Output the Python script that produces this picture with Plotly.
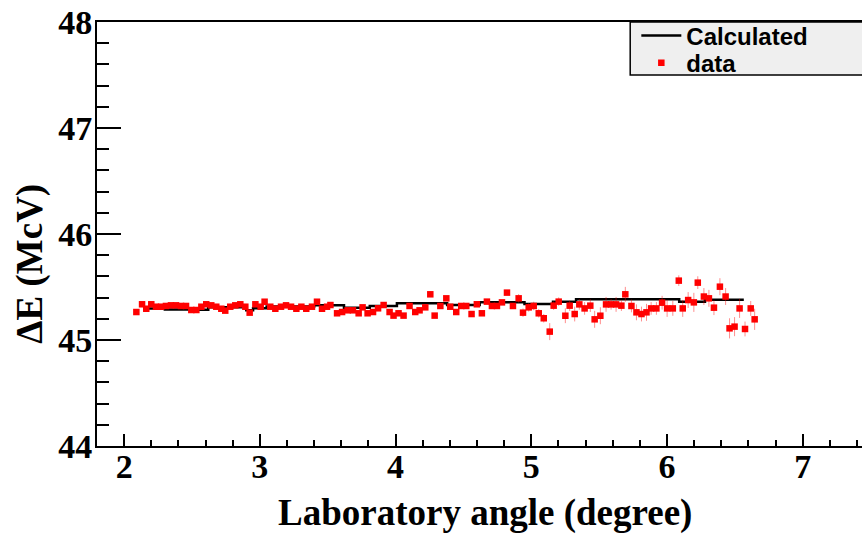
import plotly.graph_objects as go

# Measured energy loss vs laboratory angle
angle = [
    2.090, 2.132, 2.163, 2.200, 2.235, 2.272, 2.308, 2.345, 2.382, 2.419,
    2.456, 2.495, 2.532, 2.569, 2.605, 2.642, 2.679, 2.716, 2.745, 2.782,
    2.819, 2.856, 2.893, 2.925, 2.967, 3.006, 3.035, 3.077, 3.114, 3.156,
    3.193, 3.230, 3.269, 3.306, 3.342, 3.384, 3.421, 3.458, 3.495,
    3.520, 3.569, 3.606, 3.647, 3.686, 3.728, 3.757, 3.794, 3.834, 3.871,
    3.912, 3.956, 3.985, 4.022, 4.059, 4.103, 4.145, 4.177, 4.219, 4.256,
    4.288, 4.330, 4.374, 4.403, 4.447, 4.484, 4.521, 4.560, 4.599, 4.636,
    4.673, 4.710, 4.747, 4.784, 4.821, 4.865, 4.907, 4.939, 4.981, 5.018,
    5.055, 5.092, 5.136, 5.165, 5.202,
    5.251, 5.283, 5.320, 5.354, 5.393, 5.435, 5.467, 5.509, 5.551, 5.588,
    5.625, 5.664, 5.693, 5.738, 5.775, 5.812, 5.849, 5.883, 5.922, 5.964,
    6.001, 6.043, 6.087, 6.116, 6.156, 6.198, 6.227, 6.272, 6.309, 6.346,
    6.390, 6.432, 6.461, 6.498, 6.535, 6.575, 6.617, 6.646,
]
dE = [
    45.264, 45.337, 45.295, 45.337, 45.314, 45.314, 45.321, 45.327, 45.327, 45.321,
    45.321, 45.283, 45.283, 45.314, 45.337, 45.327, 45.314, 45.295, 45.277, 45.314,
    45.327, 45.337, 45.314, 45.258, 45.337, 45.314, 45.361, 45.314, 45.295, 45.314,
    45.327, 45.314, 45.295, 45.314, 45.295, 45.314, 45.361, 45.295, 45.314,
    45.330, 45.252, 45.264, 45.280, 45.280, 45.252, 45.308, 45.252, 45.264, 45.299,
    45.330, 45.264, 45.230, 45.252, 45.230, 45.321, 45.264, 45.280, 45.308, 45.431,
    45.230, 45.321, 45.393, 45.314, 45.264, 45.321, 45.321, 45.245, 45.337, 45.252,
    45.362, 45.321, 45.321, 45.355, 45.447, 45.321, 45.393, 45.258, 45.308, 45.321,
    45.252, 45.205, 45.079, 45.324, 45.362,
    45.229, 45.324, 45.245, 45.336, 45.298, 45.324, 45.195, 45.229, 45.336, 45.336,
    45.336, 45.324, 45.431, 45.321, 45.261, 45.245, 45.261, 45.298, 45.298, 45.352,
    45.298, 45.298, 45.560, 45.298, 45.377, 45.355, 45.541, 45.410, 45.393, 45.305,
    45.503, 45.410, 45.110, 45.126, 45.298, 45.104, 45.298, 45.195,
]
dE_err = [
    0.02, 0.02, 0.02, 0.02, 0.02, 0.02, 0.02, 0.02, 0.02, 0.02,
    0.02, 0.02, 0.02, 0.02, 0.02, 0.02, 0.02, 0.02, 0.02, 0.02,
    0.02, 0.02, 0.02, 0.02, 0.02, 0.02, 0.02, 0.02, 0.02, 0.02,
    0.02, 0.02, 0.02, 0.02, 0.02, 0.02, 0.02, 0.02, 0.02,
    0.02, 0.02, 0.02, 0.02, 0.02, 0.02, 0.02, 0.02, 0.02, 0.02,
    0.02, 0.02, 0.02, 0.02, 0.02, 0.02, 0.02, 0.02, 0.02, 0.02,
    0.02, 0.02, 0.02, 0.02, 0.02, 0.02, 0.02, 0.02, 0.02, 0.02,
    0.02, 0.02, 0.02, 0.02, 0.02, 0.02, 0.04, 0.04, 0.04, 0.04,
    0.04, 0.04, 0.08, 0.04, 0.04,
    0.07, 0.05, 0.07, 0.05, 0.06, 0.06, 0.08, 0.08, 0.07, 0.05,
    0.07, 0.05, 0.07, 0.06, 0.075, 0.07, 0.08, 0.06, 0.06, 0.065,
    0.08, 0.07, 0.05, 0.08, 0.075, 0.09, 0.06, 0.08, 0.08, 0.07,
    0.08, 0.08, 0.095, 0.09, 0.09, 0.07, 0.07, 0.1,
]

# Calculated curve (step levels)
calc_angle = [2.18, 2.30, 2.50, 2.62, 2.90, 2.95, 3.05, 3.40, 3.62, 3.81,
              4.01, 4.38, 4.62, 4.95, 5.16, 5.33, 6.09, 6.28, 6.566]
calc_dE = [45.298, 45.287, 45.285, 45.308, 45.280, 45.300, 45.315, 45.327, 45.305, 45.321,
           45.346, 45.330, 45.355, 45.340, 45.362, 45.385, 45.360, 45.380, 45.380]

x_ticks = [2, 3, 4, 5, 6, 7]
y_ticks = [44, 45, 46, 47, 48]

serif_bold = dict(family="Liberation Serif", size=34, color="black", weight="bold")
legend_font = dict(family="Liberation Sans", size=24, color="black", weight="bold")

fig = go.Figure()
fig.add_trace(go.Scatter(
    x=calc_angle, y=calc_dE, mode="lines", name="Calculated",
    line=dict(color="black", width=2.5, shape="hv"), legend="legend",
))
fig.add_trace(go.Scatter(
    x=angle, y=dE, mode="markers", name="data",
    marker=dict(symbol="square", size=6.5, color="#ff0000"),
    error_y=dict(type="data", array=dE_err, color="rgba(255,0,0,0.45)",
                 thickness=1, width=0),
    legend="legend2",
))

fig.update_layout(
    width=862, height=534,
    margin=dict(l=97, r=0, t=22, b=88),
    paper_bgcolor="white", plot_bgcolor="white",
    showlegend=True,
    legend=dict(
        x=0.705, y=0.967, xanchor="left", yanchor="middle",
        bgcolor="rgba(0,0,0,0)", borderwidth=0, font=legend_font, itemwidth=40,
    ),
    legend2=dict(
        x=0.705, y=0.903, xanchor="left", yanchor="middle",
        bgcolor="rgba(0,0,0,0)", borderwidth=0, font=legend_font, itemwidth=40,
    ),
    xaxis=dict(
        range=[1.8, 7.437], tickvals=x_ticks, ticktext=[str(v) for v in x_ticks],
        ticks="inside", ticklen=12, tickwidth=1.5, tickcolor="black",
        minor=dict(dtick=0.2, ticks="inside", ticklen=6, tickwidth=1.5, tickcolor="black"),
        showline=True, linecolor="black", linewidth=2, mirror=True,
        showgrid=False, zeroline=False, tickfont=serif_bold, ticklabelstandoff=-11,
    ),
    yaxis=dict(
        range=[44, 48], tickvals=y_ticks, ticktext=[str(v) for v in y_ticks],
        ticks="inside", ticklen=24, tickwidth=1.5, tickcolor="black",
        minor=dict(dtick=0.2, ticks="inside", ticklen=12, tickwidth=1.5, tickcolor="black"),
        showline=True, linecolor="black", linewidth=2, mirror=False,
        showgrid=False, zeroline=False, tickfont=serif_bold, ticklabelstandoff=-4,
    ),
    shapes=[dict(
        type="rect", xref="paper", yref="paper",
        x0=0.697, x1=1.05, y0=0.875, y1=1.0,
        fillcolor="#efefef", line=dict(color="black", width=1.5), layer="above",
    )],
    annotations=[
        dict(text="Laboratory angle (degree)", xref="paper", yref="paper",
             x=0.507, y=-0.158, xanchor="center", yanchor="middle", showarrow=False,
             font=dict(family="Liberation Serif", size=37, color="black", weight="bold")),
        dict(text="ΔE (McV)", xref="paper", yref="paper",
             x=-0.0876, y=0.43, xanchor="center", yanchor="middle", showarrow=False,
             textangle=-90,
             font=dict(family="Liberation Serif", size=37, color="black", weight="bold")),
    ],
)

fig.write_html("out.html")
